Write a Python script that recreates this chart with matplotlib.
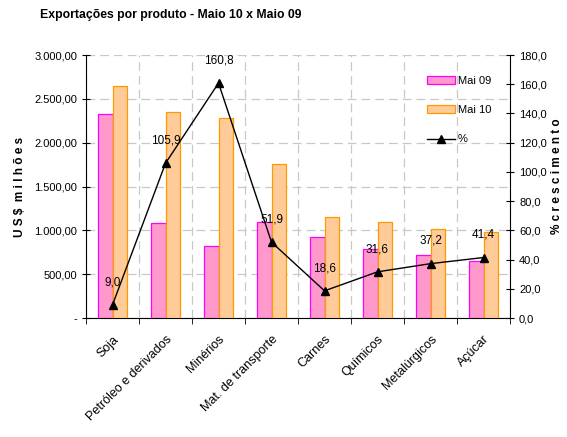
import matplotlib
matplotlib.use("Agg")
import matplotlib.pyplot as plt
import numpy as np
from matplotlib.ticker import FuncFormatter, MultipleLocator, FixedLocator

categories = ["Soja", "Petróleo e derivados", "Minérios", "Mat. de transporte",
              "Carnes", "Químicos", "Metalúrgicos", "Açúcar"]
mai09 = [2323, 1084, 821, 1095, 927, 790, 715, 650]
mai10 = [2646, 2353, 2278, 1757, 1155, 1098, 1019, 978]
crescimento = [9.0, 105.9, 160.8, 51.9, 18.6, 31.6, 37.2, 41.4]

plt.rcParams['font.family'] = ['Liberation Sans', 'DejaVu Sans']

fig = plt.figure(figsize=(5.67, 4.37), dpi=100)
ax = fig.add_axes([0.1517, 0.2723, 0.7478, 0.6018])
ax2 = ax.twinx()

x = np.arange(len(categories))
w = 0.28
ax.bar(x - w/2, mai09, width=w, color='#FF99CC', edgecolor='#FF00FF', linewidth=0.9,
       label='Mai 09', zorder=3)
ax.bar(x + w/2, mai10, width=w, color='#FFCC99', edgecolor='#FF9900', linewidth=0.9,
       label='Mai 10', zorder=3)

ax.set_xlim(-0.5, len(categories) - 0.5)
ax.set_ylim(0, 3000)
ax.yaxis.set_major_locator(MultipleLocator(500))

def fmt_left(v, pos):
    if v == 0:
        return '-'
    s = f"{v:,.2f}"
    return s.replace(',', 'X').replace('.', ',').replace('X', '.')
ax.yaxis.set_major_formatter(FuncFormatter(fmt_left))

ax2.set_ylim(0, 180)
ax2.yaxis.set_major_locator(MultipleLocator(20))
ax2.yaxis.set_major_formatter(FuncFormatter(lambda v, p: f"{v:.1f}".replace('.', ',')))

ln, = ax2.plot(x, crescimento, color='black', linewidth=1.0, marker='^', markersize=6,
               label='%', zorder=5)
for xi, v in zip(x, crescimento):
    ax2.annotate(f"{v:.1f}".replace('.', ','), (xi, v), textcoords='offset points',
                 xytext=(0, 12), ha='center', va='bottom', fontsize=8.5)

# grid
ax.set_axisbelow(True)
ax.yaxis.grid(True, linestyle=(0, (7, 4)), color='#C8C8C8', linewidth=0.9)
ax.xaxis.set_minor_locator(FixedLocator(np.arange(-0.5, len(categories), 1.0)))
ax.xaxis.grid(True, which='minor', linestyle=(0, (7, 4)), color='#C8C8C8', linewidth=0.9)
ax.set_xticks(x)
ax.set_xticklabels(categories, rotation=45, ha='right', rotation_mode='anchor', fontsize=9)
ax.tick_params(axis='x', which='major', length=0, pad=11)
ax.tick_params(axis='x', which='minor', length=4, direction='out', color='black')

for a in (ax, ax2):
    a.spines['top'].set_visible(False)
ax.spines['right'].set_visible(False)
ax2.spines['left'].set_visible(False)
ax2.spines['bottom'].set_visible(False)
ax.tick_params(axis='y', direction='inout', length=6, labelsize=8)
ax2.tick_params(axis='y', direction='inout', length=6, labelsize=8)

ax.set_ylabel('U S $  m i l h õ e s', fontsize=8.5, fontweight='bold', labelpad=6)
fig.text(0.982, 0.597, '% c r e s c i m e n t o', fontsize=8.5, fontweight='bold',
         rotation=90, ha='center', va='center')

fig.text(0.07, 0.965, 'Exportações por produto - Maio 10 x Maio 09', fontsize=8.8,
         fontweight='bold', va='center', ha='left')

h1, l1 = ax.get_legend_handles_labels()
h2, l2 = ax2.get_legend_handles_labels()
ax2.legend(h1 + h2, l1 + l2, loc='upper left', bbox_to_anchor=(0.78, 0.96), frameon=False,
           fontsize=8, handlelength=2.5, labelspacing=1.75, handletextpad=0.3)

fig.savefig('out.png', dpi=100)
